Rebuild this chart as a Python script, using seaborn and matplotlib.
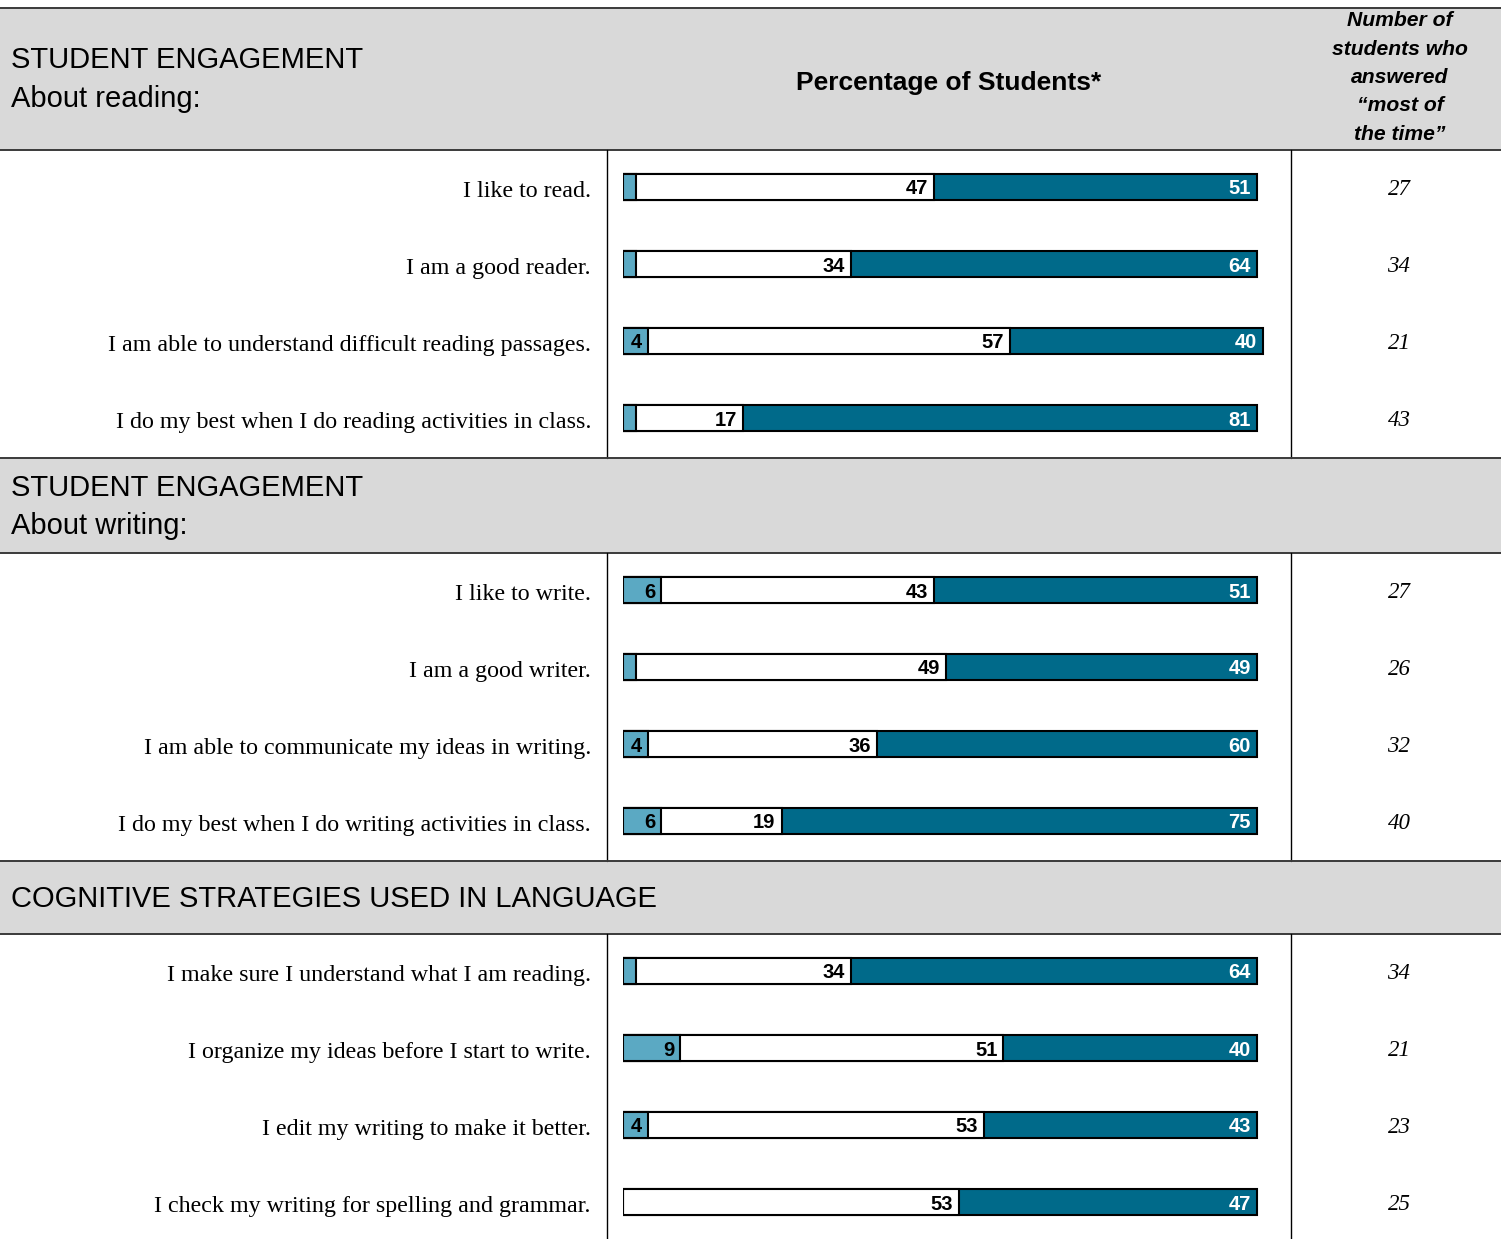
import numpy as np
import pandas as pd
import matplotlib
matplotlib.use("Agg")
import matplotlib.pyplot as plt
from matplotlib import transforms
from matplotlib.patches import Rectangle
import seaborn as sns

# ---- data -------------------------------------------------------------
reading_items = [
    "I like to read.",
    "I am a good reader.",
    "I am able to understand difficult reading passages.",
    "I do my best when I do reading activities in class.",
]
reading_rarely = [2, 2, 4, 2]
reading_sometimes = [47, 34, 57, 17]
reading_most = [51, 64, 40, 81]
reading_counts = [27, 34, 21, 43]

writing_items = [
    "I like to write.",
    "I am a good writer.",
    "I am able to communicate my ideas in writing.",
    "I do my best when I do writing activities in class.",
]
writing_rarely = [6, 2, 4, 6]
writing_sometimes = [43, 49, 36, 19]
writing_most = [51, 49, 60, 75]
writing_counts = [27, 26, 32, 40]

cognitive_items = [
    "I make sure I understand what I am reading.",
    "I organize my ideas before I start to write.",
    "I edit my writing to make it better.",
    "I check my writing for spelling and grammar.",
]
cognitive_rarely = [2, 9, 4, 0]
cognitive_sometimes = [34, 51, 53, 53]
cognitive_most = [64, 40, 43, 47]
cognitive_counts = [34, 21, 23, 25]

header_lines = [
    ["STUDENT ENGAGEMENT", "About reading:"],
    ["STUDENT ENGAGEMENT", "About writing:"],
    ["COGNITIVE STRATEGIES USED IN LANGUAGE"],
]
bar_title = "Percentage of Students*"
count_title = ["Number of", "students who", "answered", "\u201cmost of", "the time\u201d"]

# ---- style ------------------------------------------------------------
sns.set_theme(style="white")
plt.rcParams["font.family"] = ["Liberation Sans", "DejaVu Sans"]
plt.rcParams["text.color"] = "black"

C_LIGHT = "#5BA9C3"
C_MID = "#FFFFFF"
C_DARK = "#006A8A"
C_HEAD = "#D9D9D9"
C_RULE = "#3A3A3A"
SERIF = ["Liberation Serif", "DejaVu Serif"]

W, H = 1501, 1239
fig = plt.figure(figsize=(W / 100, H / 100), dpi=100)

# background layer in pixel units for the table frame
bg = fig.add_axes([0, 0, 1, 1])
bg.set_xlim(0, W)
bg.set_ylim(H, 0)
bg.axis("off")

# (header top, header bottom, body bottom) for each block
blocks = [(8, 150, 458), (458, 553, 861), (861, 934, H)]
for top, hb, bb in blocks:
    bg.add_patch(Rectangle((0, top), W, hb - top, facecolor=C_HEAD, edgecolor="none"))
    bg.plot([0, W], [top, top], color=C_RULE, lw=1.4)
    bg.plot([0, W], [hb, hb], color=C_RULE, lw=1.4)
    bg.plot([607, 607], [hb, bb], color="black", lw=1.0)
    bg.plot([1291, 1291], [hb, bb], color="black", lw=1.0)

# header texts
hfont = dict(fontsize=21, va="center", ha="left")
bg.text(11, 60, header_lines[0][0], **hfont)
bg.text(11, 99, header_lines[0][1], **hfont)
bg.text(11, 488, header_lines[1][0], **hfont)
bg.text(11, 526, header_lines[1][1], **hfont)
bg.text(11, 899, header_lines[2][0], **hfont)
bg.text(949, 83, bar_title, fontsize=19, fontweight="bold", va="center", ha="center")
for k, line in enumerate(count_title):
    bg.text(1400, 21 + k * 28.3, line, fontsize=15.2, fontweight="bold",
            fontstyle="italic", va="center", ha="center")

# ---- bar panels -------------------------------------------------------
px_per_pct = (1257 - 623) / 100.0
x_max = 105
sections = [
    (reading_items, reading_rarely, reading_sometimes, reading_most, reading_counts),
    (writing_items, writing_rarely, writing_sometimes, writing_most, writing_counts),
    (cognitive_items, cognitive_rarely, cognitive_sometimes, cognitive_most, cognitive_counts),
]
row_gap = 77.0
first_offset = 37.0

for (top, hb, bb), (items, rarely, sometimes, most, counts) in zip(blocks, sections):
    ax = fig.add_axes([623 / W, 1 - bb / H, x_max * px_per_pct / W, (bb - hb) / H])
    ax.patch.set_alpha(0)
    df = pd.DataFrame({
        "item": items,
        "rarely": rarely,
        "sometimes": sometimes,
        "most": most,
        "count": counts,
    })
    df["cum_mid"] = df["rarely"] + df["sometimes"]
    df["total"] = df["cum_mid"] + df["most"]

    common = dict(y="item", data=df, ax=ax, orient="h", width=0.34,
                  edgecolor="black", linewidth=1.5, saturation=1, errorbar=None)
    sns.barplot(x="total", color=C_DARK, **common)
    sns.barplot(x="cum_mid", color=C_MID, **common)
    sns.barplot(x="rarely", color=C_LIGHT, **common)

    n = len(df)
    ax.set_xlim(0, x_max)
    ax.set_ylim((n - 1) + (bb - hb - first_offset - (n - 1) * row_gap) / row_gap,
                -first_offset / row_gap)
    ax.axis("off")

    shift = transforms.offset_copy(ax.transData, fig=fig, x=-6, y=-2, units="dots")
    lab_tr = transforms.offset_copy(
        transforms.blended_transform_factory(fig.transFigure, ax.transData),
        fig=fig, x=0, y=-10, units="dots")
    cnt_tr = transforms.offset_copy(
        transforms.blended_transform_factory(fig.transFigure, ax.transData),
        fig=fig, x=0, y=-8, units="dots")
    for i, r in df.iterrows():
        vfont = dict(fontsize=14.5, fontweight="bold", va="center", ha="right",
                     transform=shift)
        if r["rarely"] >= 4:
            ax.text(r["rarely"], i, f"{r['rarely']:d}", color="black", **vfont)
        ax.text(r["cum_mid"], i, f"{r['sometimes']:d}", color="black", **vfont)
        ax.text(r["total"], i, f"{r['most']:d}", color="white", **vfont)

        ax.text(591 / W, i, r["item"], transform=lab_tr, ha="right", va="baseline",
                fontsize=17.3, family=SERIF)
        ax.text(1399 / W, i, f"{r['count']:d}", transform=cnt_tr, ha="center",
                va="baseline", fontsize=16.5, fontstyle="italic", family=SERIF)

fig.savefig("out.png", dpi=100)
